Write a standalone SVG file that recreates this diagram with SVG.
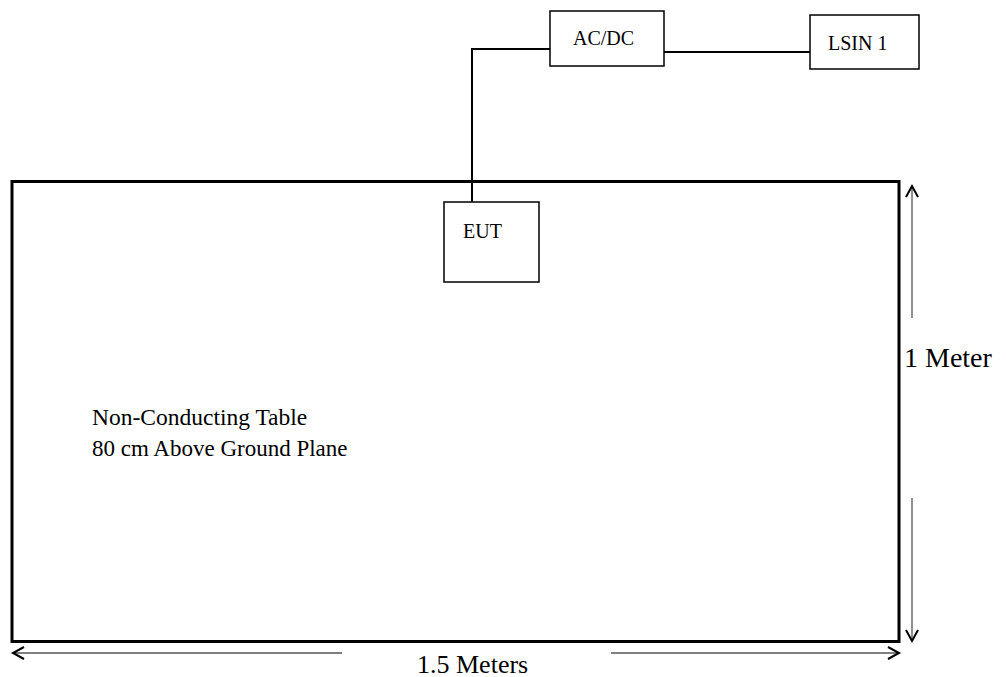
<svg xmlns="http://www.w3.org/2000/svg" width="1006" height="677" viewBox="0 0 1006 677">
<style>
text{font-family:"Liberation Serif","Times New Roman",serif;fill:#000}
.box{fill:#fff;stroke:#000;stroke-width:1.5}
.wire{fill:none;stroke:#000;stroke-width:2}
.dim{fill:none;stroke:#555;stroke-width:1.3}
.head{fill:none;stroke:#000;stroke-width:2}
</style>
<rect width="1006" height="677" fill="#fff"/>
<g id="table">
<rect x="12" y="181.5" width="887" height="460" fill="none" stroke="#000" stroke-width="3"/>
<text x="92" y="425" font-size="23.5">Non-Conducting Table</text>
<text x="92" y="456" font-size="23">80 cm Above Ground Plane</text>
</g>
<g id="connectors">
<polyline class="wire" points="472,210 472,49 550,49"/>
<line class="wire" x1="664" y1="52" x2="810" y2="52"/>
</g>
<g id="eut">
<rect class="box" x="444" y="202" width="95" height="80"/>
<text x="463" y="238" font-size="20">EUT</text>
</g>
<g id="acdc">
<rect class="box" x="550" y="11" width="114" height="55"/>
<text x="573" y="45" font-size="20">AC/DC</text>
</g>
<g id="lsin">
<rect class="box" x="810" y="15" width="109" height="54"/>
<text x="828" y="50" font-size="20">LSIN 1</text>
</g>
<g id="dimensions">
<line class="dim" x1="912" y1="186" x2="912" y2="318"/>
<polyline class="head" points="906,197 912,186 918,197"/>
<line class="dim" x1="912" y1="498" x2="912" y2="641"/>
<polyline class="head" points="906,630 912,641 918,630"/>
<text x="904" y="367" font-size="28">1 Meter</text>
<line class="dim" x1="13" y1="653" x2="342" y2="653"/>
<polyline class="head" points="24,647 13,653 24,659"/>
<line class="dim" x1="611" y1="653" x2="899" y2="653"/>
<polyline class="head" points="888,647 899,653 888,659"/>
<text x="417" y="673" font-size="26">1.5 Meters</text>
</g>
</svg>
